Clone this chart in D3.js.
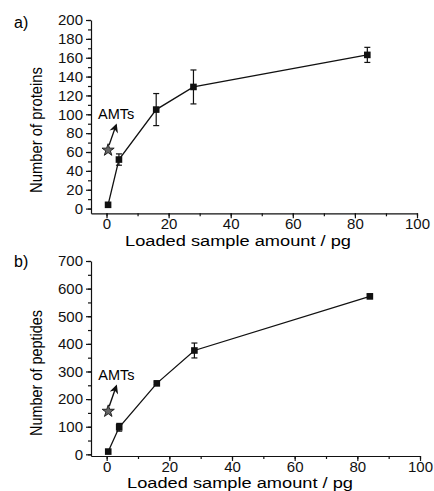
<!DOCTYPE html>
<html>
<head>
<meta charset="utf-8">
<script src="https://cdn.jsdelivr.net/npm/d3@7"></script>
<style>
  body { margin: 0; background: #fff; }
  svg { display: block; font-family: "Liberation Sans", Arial, sans-serif; }
  .axis path, .axis line { stroke: #111; stroke-width: 1.2; }
  .axis text { font-size: 15px; fill: #111; }
</style>
</head>
<body>
<svg id="chart" width="434" height="491"></svg>
<script>
// Дані
const loadedAmount = [0.5, 4, 16, 28, 84];
const proteinCounts = [4, 52, 105, 129, 163];
const proteinErrors = [0, 6, 17, 18, 8];
const peptideCounts = [10, 98, 257, 376, 572];
const peptideErrors = [0, 14, 5, 27, 8];
const amtAmount = 0.5;
const amtProteins = 62;
const amtPeptides = 156;
const xTicks = [0, 20, 40, 60, 80, 100];
const xMinorTicks = d3.range(0, 101, 10);
const proteinTicks = [0, 20, 40, 60, 80, 100, 120, 140, 160, 180, 200];
const proteinMinorTicks = d3.range(0, 201, 10);
const peptideTicks = [0, 100, 200, 300, 400, 500, 600, 700];
const peptideMinorTicks = d3.range(0, 701, 50);

const svg = d3.select("#chart");

// Маркер-стрілка для позначки AMTs
svg.append("defs").append("marker")
  .attr("id", "arrow")
  .attr("viewBox", "0 0 10 10")
  .attr("refX", 8)
  .attr("refY", 5)
  .attr("markerWidth", 10)
  .attr("markerHeight", 9)
  .attr("markerUnits", "userSpaceOnUse")
  .attr("orient", "auto")
  .append("path")
  .attr("d", "M0,0 L10,5 L0,10 L3,5 Z")
  .attr("fill", "#111");

function drawPanel(cfg) {
  const x = d3.scaleLinear().domain([-5, 100]).range(cfg.xRange);
  const y = d3.scaleLinear().domain(cfg.yDomain).range(cfg.yRange);
  const g = svg.append("g");
  const x0 = cfg.xRange[0];
  const yBase = cfg.yRange[0];

  // Дрібні поділки
  g.append("g").attr("class", "axis")
    .attr("transform", `translate(0,${yBase})`)
    .call(d3.axisBottom(x).tickValues(xMinorTicks).tickSize(3).tickFormat(""))
    .call(s => s.select(".domain").remove());
  g.append("g").attr("class", "axis")
    .attr("transform", `translate(${x0},0)`)
    .call(d3.axisLeft(y).tickValues(cfg.yMinor).tickSize(3).tickFormat(""))
    .call(s => s.select(".domain").remove());

  // Основні осі
  g.append("g").attr("class", "axis")
    .attr("transform", `translate(0,${yBase})`)
    .call(d3.axisBottom(x).tickValues(xTicks).tickSize(5).tickSizeOuter(0).tickPadding(0));
  g.append("g").attr("class", "axis")
    .attr("transform", `translate(${x0},0)`)
    .call(d3.axisLeft(y).tickValues(cfg.yTicks).tickSize(5).tickSizeOuter(0).tickPadding(3));

  // Підписи осей
  g.append("text")
    .attr("x", cfg.xTitle[0]).attr("y", cfg.xTitle[1])
    .attr("text-anchor", "middle")
    .attr("textLength", 226)
    .attr("lengthAdjust", "spacingAndGlyphs")
    .style("font-size", "14px")
    .text("Loaded sample amount / pg");
  g.append("text")
    .attr("transform", `translate(${cfg.yTitle[0]},${cfg.yTitle[1]}) rotate(-90)`)
    .attr("text-anchor", "middle")
    .attr("textLength", 126)
    .attr("lengthAdjust", "spacingAndGlyphs")
    .style("font-size", "16px")
    .text(cfg.yLabel);
  g.append("text")
    .attr("x", 14).attr("y", cfg.panelY)
    .style("font-size", "16px")
    .text(cfg.panel);

  const data = loadedAmount.map((a, i) => ({ a, v: cfg.values[i], e: cfg.errors[i] }));

  // Лінія
  g.append("path")
    .datum(data)
    .attr("fill", "none")
    .attr("stroke", "#111")
    .attr("stroke-width", 1.3)
    .attr("d", d3.line().x(d => x(d.a)).y(d => y(d.v)));

  // Похибки
  const eb = g.selectAll(".err").data(data.filter(d => d.e > 0)).enter().append("g")
    .attr("stroke", "#111").attr("stroke-width", 1.2);
  eb.append("line")
    .attr("x1", d => x(d.a)).attr("x2", d => x(d.a))
    .attr("y1", d => y(d.v - d.e)).attr("y2", d => y(d.v + d.e));
  eb.append("line")
    .attr("x1", d => x(d.a) - 3).attr("x2", d => x(d.a) + 3)
    .attr("y1", d => y(d.v + d.e)).attr("y2", d => y(d.v + d.e));
  eb.append("line")
    .attr("x1", d => x(d.a) - 3).attr("x2", d => x(d.a) + 3)
    .attr("y1", d => y(d.v - d.e)).attr("y2", d => y(d.v - d.e));

  // Квадратні маркери
  g.selectAll(".pt").data(data).enter().append("rect")
    .attr("x", d => x(d.a) - 3.3).attr("y", d => y(d.v) - 3.3)
    .attr("width", 6.6).attr("height", 6.6)
    .attr("fill", "#111");

  // AMTs: зірка та стрілка
  const sx = x(amtAmount), sy = y(cfg.amt);
  g.append("line")
    .attr("x1", sx + 1).attr("y1", sy - 5)
    .attr("x2", sx + 8).attr("y2", sy - 25)
    .attr("stroke", "#111").attr("stroke-width", 1.4)
    .attr("marker-end", "url(#arrow)");
  g.append("path")
    .attr("transform", `translate(${sx},${sy})`)
    .attr("d", d3.symbol().type(d3.symbolStar).size(46)())
    .attr("fill", "#666").attr("stroke", "#222").attr("stroke-width", 1);
  g.append("text")
    .attr("x", sx - 10).attr("y", sy - 31)
    .style("font-size", "14.5px")
    .text("AMTs");
}

drawPanel({
  panel: "a)", panelY: 28,
  xRange: [91, 417], yDomain: [-5, 200], yRange: [213.3, 20],
  yTicks: proteinTicks, yMinor: proteinMinorTicks,
  values: proteinCounts, errors: proteinErrors, amt: amtProteins,
  yLabel: "Number of proteins", yTitle: [42, 130], xTitle: [238, 246]
});

drawPanel({
  panel: "b)", panelY: 267,
  xRange: [91, 420], yDomain: [-6, 700], yRange: [456, 261],
  yTicks: peptideTicks, yMinor: peptideMinorTicks,
  values: peptideCounts, errors: peptideErrors, amt: amtPeptides,
  yLabel: "Number of peptides", yTitle: [42, 373], xTitle: [240, 488]
});
</script>
</body>
</html>
